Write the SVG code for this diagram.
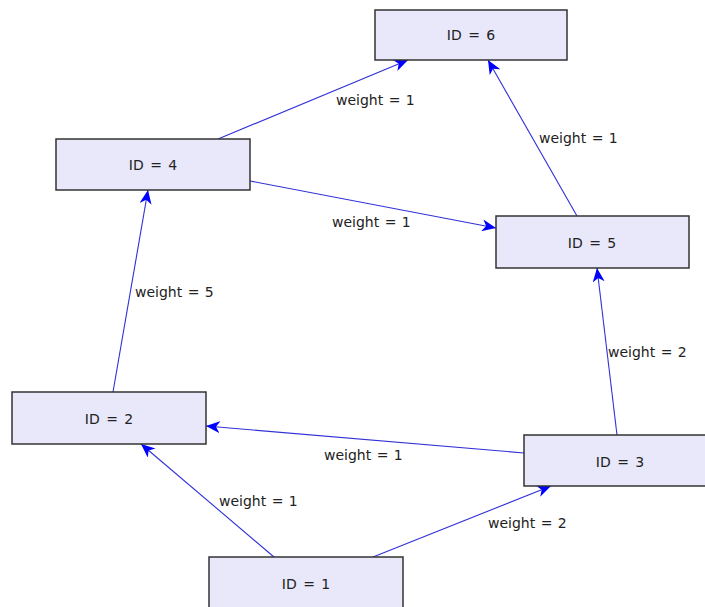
<svg xmlns="http://www.w3.org/2000/svg" width="705" height="607" viewBox="0 0 705 607">
<style>
.node rect{fill:#e8e8fa;stroke:#333;stroke-width:1.5}
.node text{font-family:"DejaVu Sans",sans-serif;font-size:14px;fill:#222;text-anchor:middle;word-spacing:2px}
.edge line{stroke:#3030d8;stroke-width:1.1;marker-end:url(#arr)}
.lbl{font-family:"DejaVu Sans",sans-serif;font-size:14px;fill:#222;word-spacing:1px}
</style>
<defs>
<marker id="arr" viewBox="0 0 14 12" refX="14" refY="6" markerWidth="14" markerHeight="12" markerUnits="userSpaceOnUse" orient="auto">
<path d="M0,0 L14,6 L0,12 L4,6 z" fill="#0000ff"/>
</marker>
</defs>
<rect width="705" height="607" fill="#fff"/>
<g id="connectors" class="edge">
<line x1="218" y1="139" x2="408" y2="60"/>
<line x1="577" y1="216" x2="488" y2="60"/>
<line x1="250" y1="181" x2="496" y2="228"/>
<line x1="113" y1="392" x2="148" y2="190"/>
<line x1="617" y1="435" x2="597" y2="268"/>
<line x1="524" y1="453" x2="206" y2="426"/>
<line x1="274" y1="557" x2="141" y2="444"/>
<line x1="373" y1="557" x2="551" y2="486"/>
</g>
<g id="labels" class="lbl">
<text x="336" y="105">weight = 1</text>
<text x="539" y="143">weight = 1</text>
<text x="332" y="227">weight = 1</text>
<text x="135" y="297">weight = 5</text>
<text x="608" y="357">weight = 2</text>
<text x="324" y="460">weight = 1</text>
<text x="219" y="506">weight = 1</text>
<text x="488" y="528">weight = 2</text>
</g>
<g id="node6" class="node"><rect x="375" y="10" width="192" height="50"/><text x="471" y="40">ID = 6</text></g>
<g id="node4" class="node"><rect x="56" y="139" width="194" height="51"/><text x="153" y="170">ID = 4</text></g>
<g id="node5" class="node"><rect x="496" y="216" width="193" height="52"/><text x="592" y="248">ID = 5</text></g>
<g id="node2" class="node"><rect x="12" y="392" width="194" height="52"/><text x="109" y="424">ID = 2</text></g>
<g id="node3" class="node"><rect x="524" y="435" width="194" height="51"/><text x="620" y="467">ID = 3</text></g>
<g id="node1" class="node"><rect x="209" y="557" width="194" height="52"/><text x="306" y="589">ID = 1</text></g>
</svg>
